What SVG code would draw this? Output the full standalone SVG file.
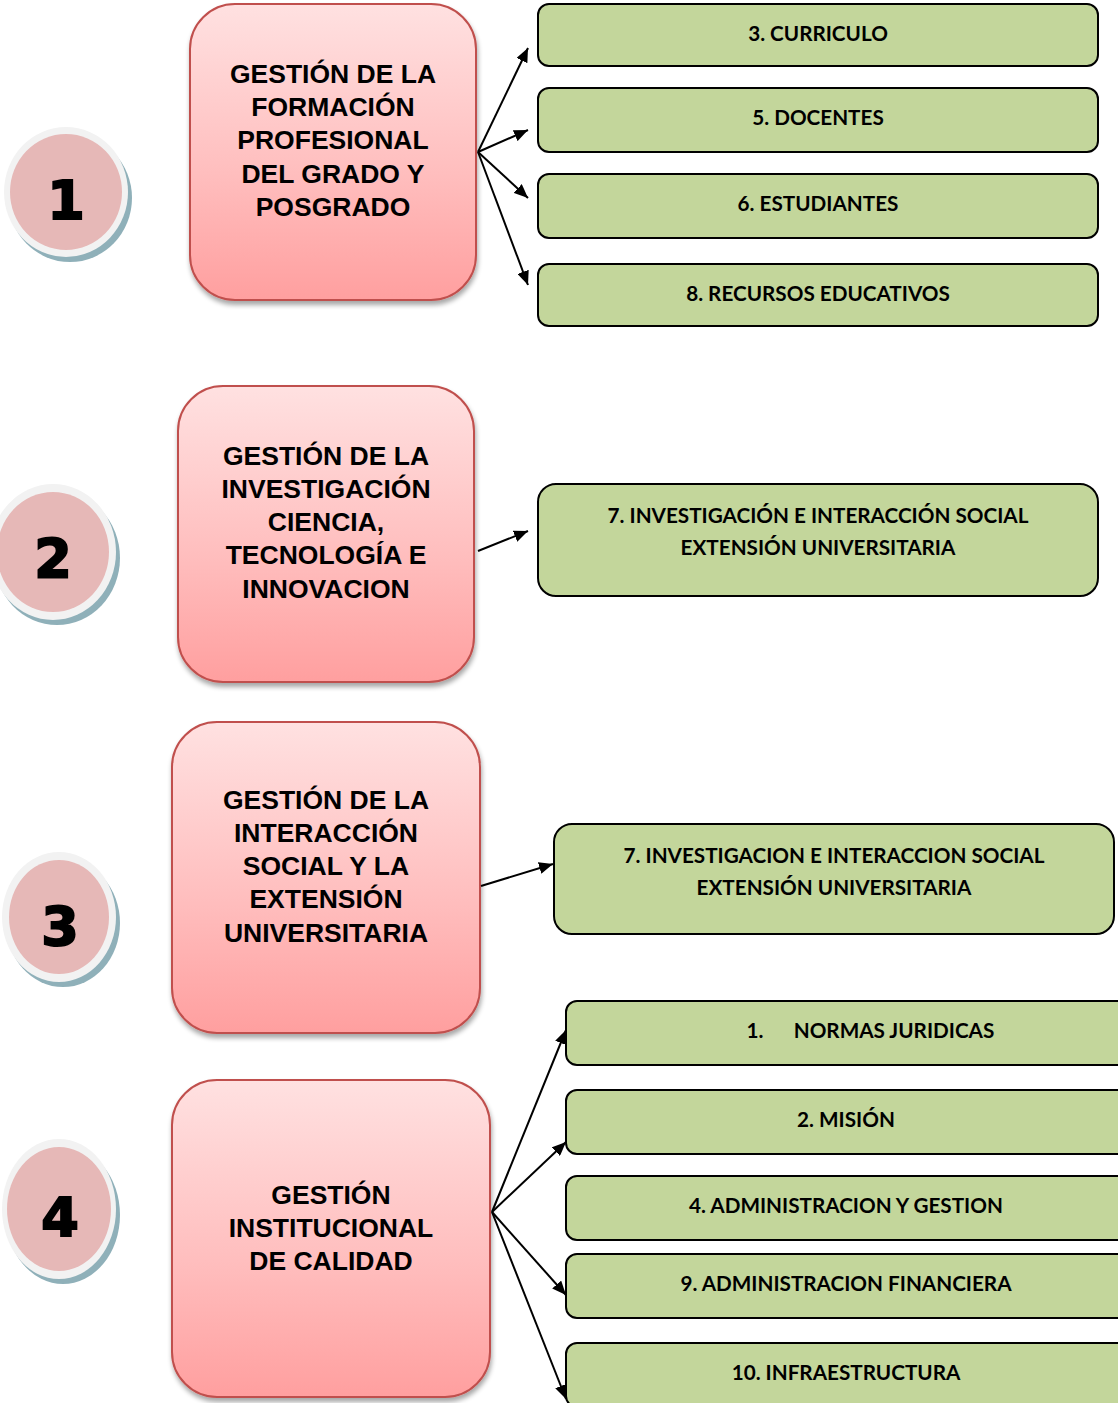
<svg xmlns="http://www.w3.org/2000/svg" width="1118" height="1403" viewBox="0 0 1118 1403">
<defs>
<linearGradient id="pinkg" x1="0" y1="0" x2="0" y2="1">
<stop offset="0" stop-color="#ffe1e1"/>
<stop offset="0.6" stop-color="#ffbcbc"/>
<stop offset="1" stop-color="#ff9f9f"/>
</linearGradient>
<filter id="sh" x="-10%" y="-10%" width="130%" height="130%">
<feGaussianBlur in="SourceAlpha" stdDeviation="2.5"/>
<feOffset dx="1" dy="4" result="b"/>
<feComponentTransfer><feFuncA type="linear" slope="0.35"/></feComponentTransfer>
<feMerge><feMergeNode/><feMergeNode in="SourceGraphic"/></feMerge>
</filter>
<marker id="arr" viewBox="0 0 14 12" refX="14" refY="6" markerWidth="14" markerHeight="12" markerUnits="userSpaceOnUse" orient="auto">
<path d="M0,0 L14,6 L0,12 z" fill="#000"/>
</marker>
</defs>
<style>
.pink{fill:url(#pinkg);stroke:#c0504d;stroke-width:2;filter:url(#sh)}
.pt{font-family:"Liberation Sans",Arial,sans-serif;font-weight:bold;font-size:26.5px;fill:#000;text-anchor:middle}
.green{fill:#c3d69b;stroke:#000;stroke-width:2}
.gt{font-family:Lato,"Open Sans",sans-serif;font-weight:bold;font-size:20.7px;fill:#000;text-anchor:middle}
.ring{fill:#f2f2f2}
.shad{fill:#8fb0b9}
.disc{fill:#e6b8b7}
.num{font-family:"DejaVu Sans",sans-serif;font-weight:900;font-size:54px;fill:#000;text-anchor:middle;stroke:#000;stroke-width:2}
.con{stroke:#000;stroke-width:2;fill:none;marker-end:url(#arr)}
</style>
<rect width="1118" height="1403" fill="#fff"/>

<g id="circle1">
<ellipse class="shad" cx="70" cy="198" rx="62" ry="64"/>
<ellipse class="ring" cx="66" cy="192" rx="62" ry="65"/>
<ellipse class="disc" cx="66" cy="192" rx="56" ry="58"/>
<text class="num" x="66" y="219">1</text>
</g>
<g id="circle2">
<ellipse class="shad" cx="57" cy="558" rx="63" ry="67"/>
<ellipse class="ring" cx="53" cy="552" rx="63" ry="68"/>
<ellipse class="disc" cx="53" cy="552" rx="56" ry="60"/>
<text class="num" x="53" y="577">2</text>
</g>
<g id="circle3">
<ellipse class="shad" cx="63" cy="923" rx="57" ry="64"/>
<ellipse class="ring" cx="59" cy="917" rx="57" ry="65"/>
<ellipse class="disc" cx="59" cy="917" rx="50" ry="57"/>
<text class="num" x="60" y="945">3</text>
</g>
<g id="circle4">
<ellipse class="shad" cx="63" cy="1215" rx="57" ry="69"/>
<ellipse class="ring" cx="59" cy="1209" rx="57" ry="70"/>
<ellipse class="disc" cx="59" cy="1209" rx="52" ry="62"/>
<text class="num" x="60" y="1236">4</text>
</g>

<g id="node1">
<rect class="pink" x="190" y="4" width="286" height="296" rx="45"/>
<text class="pt" x="333" y="83">GESTIÓN DE LA</text>
<text class="pt" x="333" y="116">FORMACIÓN</text>
<text class="pt" x="333" y="149">PROFESIONAL</text>
<text class="pt" x="333" y="183">DEL GRADO Y</text>
<text class="pt" x="333" y="216">POSGRADO</text>
</g>
<g id="node2">
<rect class="pink" x="178" y="386" width="296" height="296" rx="45"/>
<text class="pt" x="326" y="465">GESTIÓN DE LA</text>
<text class="pt" x="326" y="498">INVESTIGACIÓN</text>
<text class="pt" x="326" y="531">CIENCIA,</text>
<text class="pt" x="326" y="564">TECNOLOGÍA E</text>
<text class="pt" x="326" y="598">INNOVACION</text>
</g>
<g id="node3">
<rect class="pink" x="172" y="722" width="308" height="311" rx="45"/>
<text class="pt" x="326" y="809">GESTIÓN DE LA</text>
<text class="pt" x="326" y="842">INTERACCIÓN</text>
<text class="pt" x="326" y="875">SOCIAL Y LA</text>
<text class="pt" x="326" y="908">EXTENSIÓN</text>
<text class="pt" x="326" y="942">UNIVERSITARIA</text>
</g>
<g id="node4">
<rect class="pink" x="172" y="1080" width="318" height="317" rx="45"/>
<text class="pt" x="331" y="1204">GESTIÓN</text>
<text class="pt" x="331" y="1237">INSTITUCIONAL</text>
<text class="pt" x="331" y="1270">DE CALIDAD</text>
</g>

<g id="g-curriculo"><rect class="green" x="538" y="4" width="560" height="62" rx="11"/><text class="gt" x="818" y="41">3. CURRICULO</text></g>
<g id="g-docentes"><rect class="green" x="538" y="88" width="560" height="64" rx="11"/><text class="gt" x="818" y="125">5. DOCENTES</text></g>
<g id="g-estudiantes"><rect class="green" x="538" y="174" width="560" height="64" rx="11"/><text class="gt" x="818" y="211">6. ESTUDIANTES</text></g>
<g id="g-recursos"><rect class="green" x="538" y="264" width="560" height="62" rx="11"/><text class="gt" x="818" y="301">8. RECURSOS EDUCATIVOS</text></g>
<g id="g-invest1"><rect class="green" x="538" y="484" width="560" height="112" rx="18"/><text class="gt" x="818" y="523">7. INVESTIGACIÓN E INTERACCIÓN SOCIAL</text><text class="gt" x="818" y="555">EXTENSIÓN UNIVERSITARIA</text></g>
<g id="g-invest2"><rect class="green" x="554" y="824" width="560" height="110" rx="18"/><text class="gt" x="834" y="863">7. INVESTIGACION E INTERACCION SOCIAL</text><text class="gt" x="834" y="895">EXTENSIÓN UNIVERSITARIA</text></g>
<g id="g-normas"><rect class="green" x="566" y="1001" width="562" height="64" rx="11"/><text class="gt" x="755" y="1038">1.</text><text class="gt" x="894" y="1038">NORMAS JURIDICAS</text></g>
<g id="g-mision"><rect class="green" x="566" y="1090" width="562" height="64" rx="11"/><text class="gt" x="846" y="1127">2. MISIÓN</text></g>
<g id="g-admin"><rect class="green" x="566" y="1176" width="562" height="64" rx="11"/><text class="gt" x="846" y="1213">4. ADMINISTRACION Y GESTION</text></g>
<g id="g-financiera"><rect class="green" x="566" y="1254" width="562" height="64" rx="11"/><text class="gt" x="846" y="1291">9. ADMINISTRACION FINANCIERA</text></g>
<g id="g-infra"><rect class="green" x="566" y="1343" width="562" height="64" rx="11"/><text class="gt" x="846" y="1380">10. INFRAESTRUCTURA</text></g>

<g id="connectors">
<line class="con" x1="478" y1="152" x2="528" y2="48"/>
<line class="con" x1="478" y1="152" x2="528" y2="130"/>
<line class="con" x1="478" y1="152" x2="528" y2="198"/>
<line class="con" x1="478" y1="152" x2="528" y2="285"/>
<line class="con" x1="478" y1="551" x2="528" y2="531"/>
<line class="con" x1="481" y1="886" x2="553" y2="864"/>
<line class="con" x1="492" y1="1212" x2="566" y2="1030"/>
<line class="con" x1="492" y1="1212" x2="566" y2="1142"/>
<line class="con" x1="492" y1="1212" x2="566" y2="1295"/>
<line class="con" x1="492" y1="1212" x2="566" y2="1399"/>
</g>
</svg>
